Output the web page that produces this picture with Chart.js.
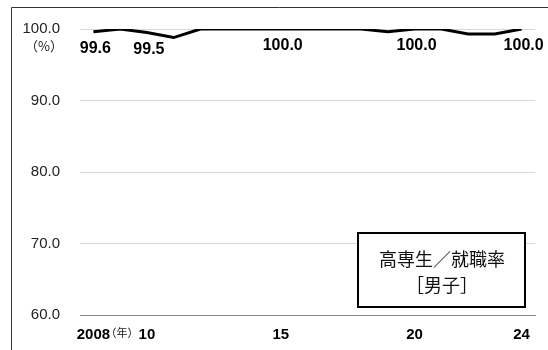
<!DOCTYPE html>
<html>
<head>
<meta charset="utf-8">
<script src="https://cdn.jsdelivr.net/npm/chart.js@4"></script>
<style>
  html, body { margin: 0; padding: 0; background: #fff; }
  #wrap { width: 548px; height: 350px; }
</style>
</head>
<body>
<div id="wrap"><canvas id="chart" width="548" height="350"></canvas></div>
<script>
// 年（2008〜2024）
const years = ['2008', '09', '10', '11', '12', '13', '14', '15', '16', '17', '18', '19', '20', '21', '22', '23', '24'];
// 高専生 就職率（男子, %）
const rate = [99.6, 100.0, 99.5, 98.8, 100.0, 100.0, 100.0, 100.0, 100.0, 100.0, 100.0, 99.6, 100.0, 100.0, 99.3, 99.3, 100.0];
// 表示する目盛り・ラベル
const shownYears = ['2008', '10', '15', '20', '24'];
const labelIdx = [0, 2, 7, 12, 16];
const yTicks = [60, 70, 80, 90, 100];

const latin = '"Liberation Sans", Arial, sans-serif';
const cjk = '"Noto Sans CJK JP", sans-serif';

// 枠線・注記
const decor = {
    id: 'decor',
    beforeDraw(chart) {
        const c = chart.ctx;
        c.save();
        c.strokeStyle = '#333';
        c.lineWidth = 1;
        c.beginPath();
        c.moveTo(11.5, 350);
        c.lineTo(11.5, 7.5);
        c.lineTo(548, 7.5);
        c.stroke();
        c.restore();
    },
    afterDraw(chart) {
        const c = chart.ctx;
        c.save();
        // 単位
        c.fillStyle = '#222';
        c.textAlign = 'center';
        c.textBaseline = 'middle';
        c.font = '13px ' + cjk;
        c.fillText('（%）', 44, 46);
        c.font = '11px ' + cjk;
        c.fillText('（年）', 122, 333);
        // 凡例ボックス
        c.fillStyle = '#fff';
        c.fillRect(358, 233, 167, 74);
        c.strokeStyle = '#000';
        c.lineWidth = 2;
        c.strokeRect(358, 233, 167, 74);
        c.fillStyle = '#111';
        c.font = '18px ' + cjk;
        c.fillText('高専生／就職率', 442, 259);
        c.fillText('［男子］', 442, 285);
        c.restore();
    },
    afterDatasetsDraw(chart) {
        const c = chart.ctx;
        const meta = chart.getDatasetMeta(0);
        c.save();
        c.fillStyle = '#000';
        c.font = 'bold 16px ' + latin;
        c.textAlign = 'center';
        c.textBaseline = 'middle';
        labelIdx.forEach(i => {
            const p = meta.data[i];
            c.fillText(rate[i].toFixed(1), p.x + 2, p.y + 17);
        });
        c.restore();
    }
};

new Chart(document.getElementById('chart'), {
    type: 'line',
    data: {
        labels: years,
        datasets: [{
            data: rate,
            borderColor: '#000',
            borderWidth: 3,
            pointRadius: 0,
            tension: 0,
            fill: false
        }]
    },
    options: {
        responsive: false,
        animation: false,
        layout: { padding: { top: 29, right: 13, bottom: 0, left: 0 } },
        plugins: { legend: { display: false }, tooltip: { enabled: false } },
        scales: {
            x: {
                offset: true,
                grid: { display: false },
                border: { display: true, color: '#888', width: 1 },
                afterFit(scale) { scale.height = 35; },
                ticks: {
                    autoSkip: false,
                    maxRotation: 0,
                    padding: 3,
                    color: '#000',
                    font: { family: latin, size: 15, weight: 'bold' },
                    callback(v) {
                        const l = years[v];
                        return shownYears.includes(l) ? l : '';
                    }
                }
            },
            y: {
                min: 60,
                max: 100,
                afterBuildTicks(scale) { scale.ticks = yTicks.map(v => ({ value: v })); },
                afterFit(scale) { scale.width = 80; },
                grid: { color: '#d9d9d9', drawTicks: false },
                border: { display: false },
                ticks: {
                    padding: 20,
                    color: '#222',
                    font: { family: latin, size: 15 },
                    callback(v) { return v.toFixed(1); }
                }
            }
        }
    },
    plugins: [decor]
});
</script>
</body>
</html>
